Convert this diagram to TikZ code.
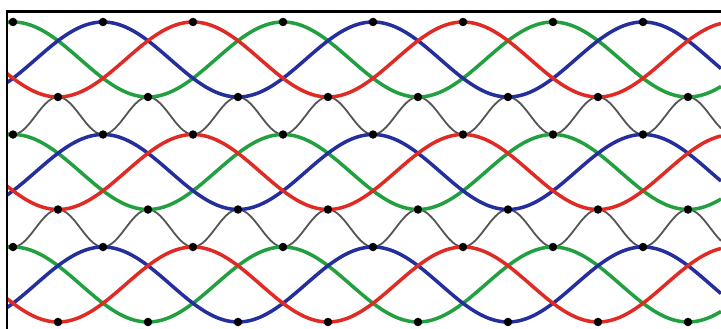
\documentclass[tikz,border=0pt]{standalone}
\definecolor{wred}{RGB}{224,42,36}
\definecolor{wgreen}{RGB}{34,160,64}
\definecolor{wblue}{RGB}{36,46,156}
\definecolor{wgray}{RGB}{85,85,85}
\tikzset{
  cwave/.style={line width=3.5pt, line join=round},
  gwave/.style={wgray, line width=1.8pt},
  dotmark/.style={circle, fill=black, inner sep=0pt, minimum size=8.5pt},
  framebar/.style={line width=2.6pt, black}
}
\begin{document}
\begin{tikzpicture}[x=1pt,y=-1pt]
\useasboundingbox (0,0) rectangle (721,329);
\fill[white] (0,0) rectangle (721,329);
\begin{scope}
\clip (7,11.5) rectangle (721,329);
% gray waves between bands
\foreach \j in {0,1}{
  \pgfmathsetmacro{\gc}{97+18.75+112.5*\j}
  \draw[gwave] plot[domain=0:721, samples=240, smooth] (\x, {\gc-18.75*cos(4*(\x-58))});
}
% coloured bands
\foreach \b in {0,1,2}{
  \pgfmathsetmacro{\cc}{59.5+112.5*\b}
  \draw[cwave, wgreen] plot[domain=0:721, samples=160, smooth] (\x, {\cc-37.5*cos(4*(\x-13)/3)});
  \draw[cwave, wblue] plot[domain=0:721, samples=160, smooth] (\x, {\cc-37.5*cos(4*(\x-103)/3)});
  \draw[cwave, wred] plot[domain=0:721, samples=160, smooth] (\x, {\cc-37.5*cos(4*(\x-193)/3)});
}
\end{scope}
% dots
\foreach \b in {0,1,2}{
  \pgfmathsetmacro{\yt}{22+112.5*\b}
  \pgfmathsetmacro{\yb}{97+112.5*\b}
  \foreach \k in {0,...,7}{
    \node[dotmark] (t\b\k) at ({13+90*\k}, \yt) {};
    \node[dotmark] (d\b\k) at ({58+90*\k}, \yb) {};
  }
}
% frame
\draw[framebar] (5.7,11.5) -- (721,11.5);
\draw[framebar] (7,10.2) -- (7,329);
\end{tikzpicture}
\end{document}
